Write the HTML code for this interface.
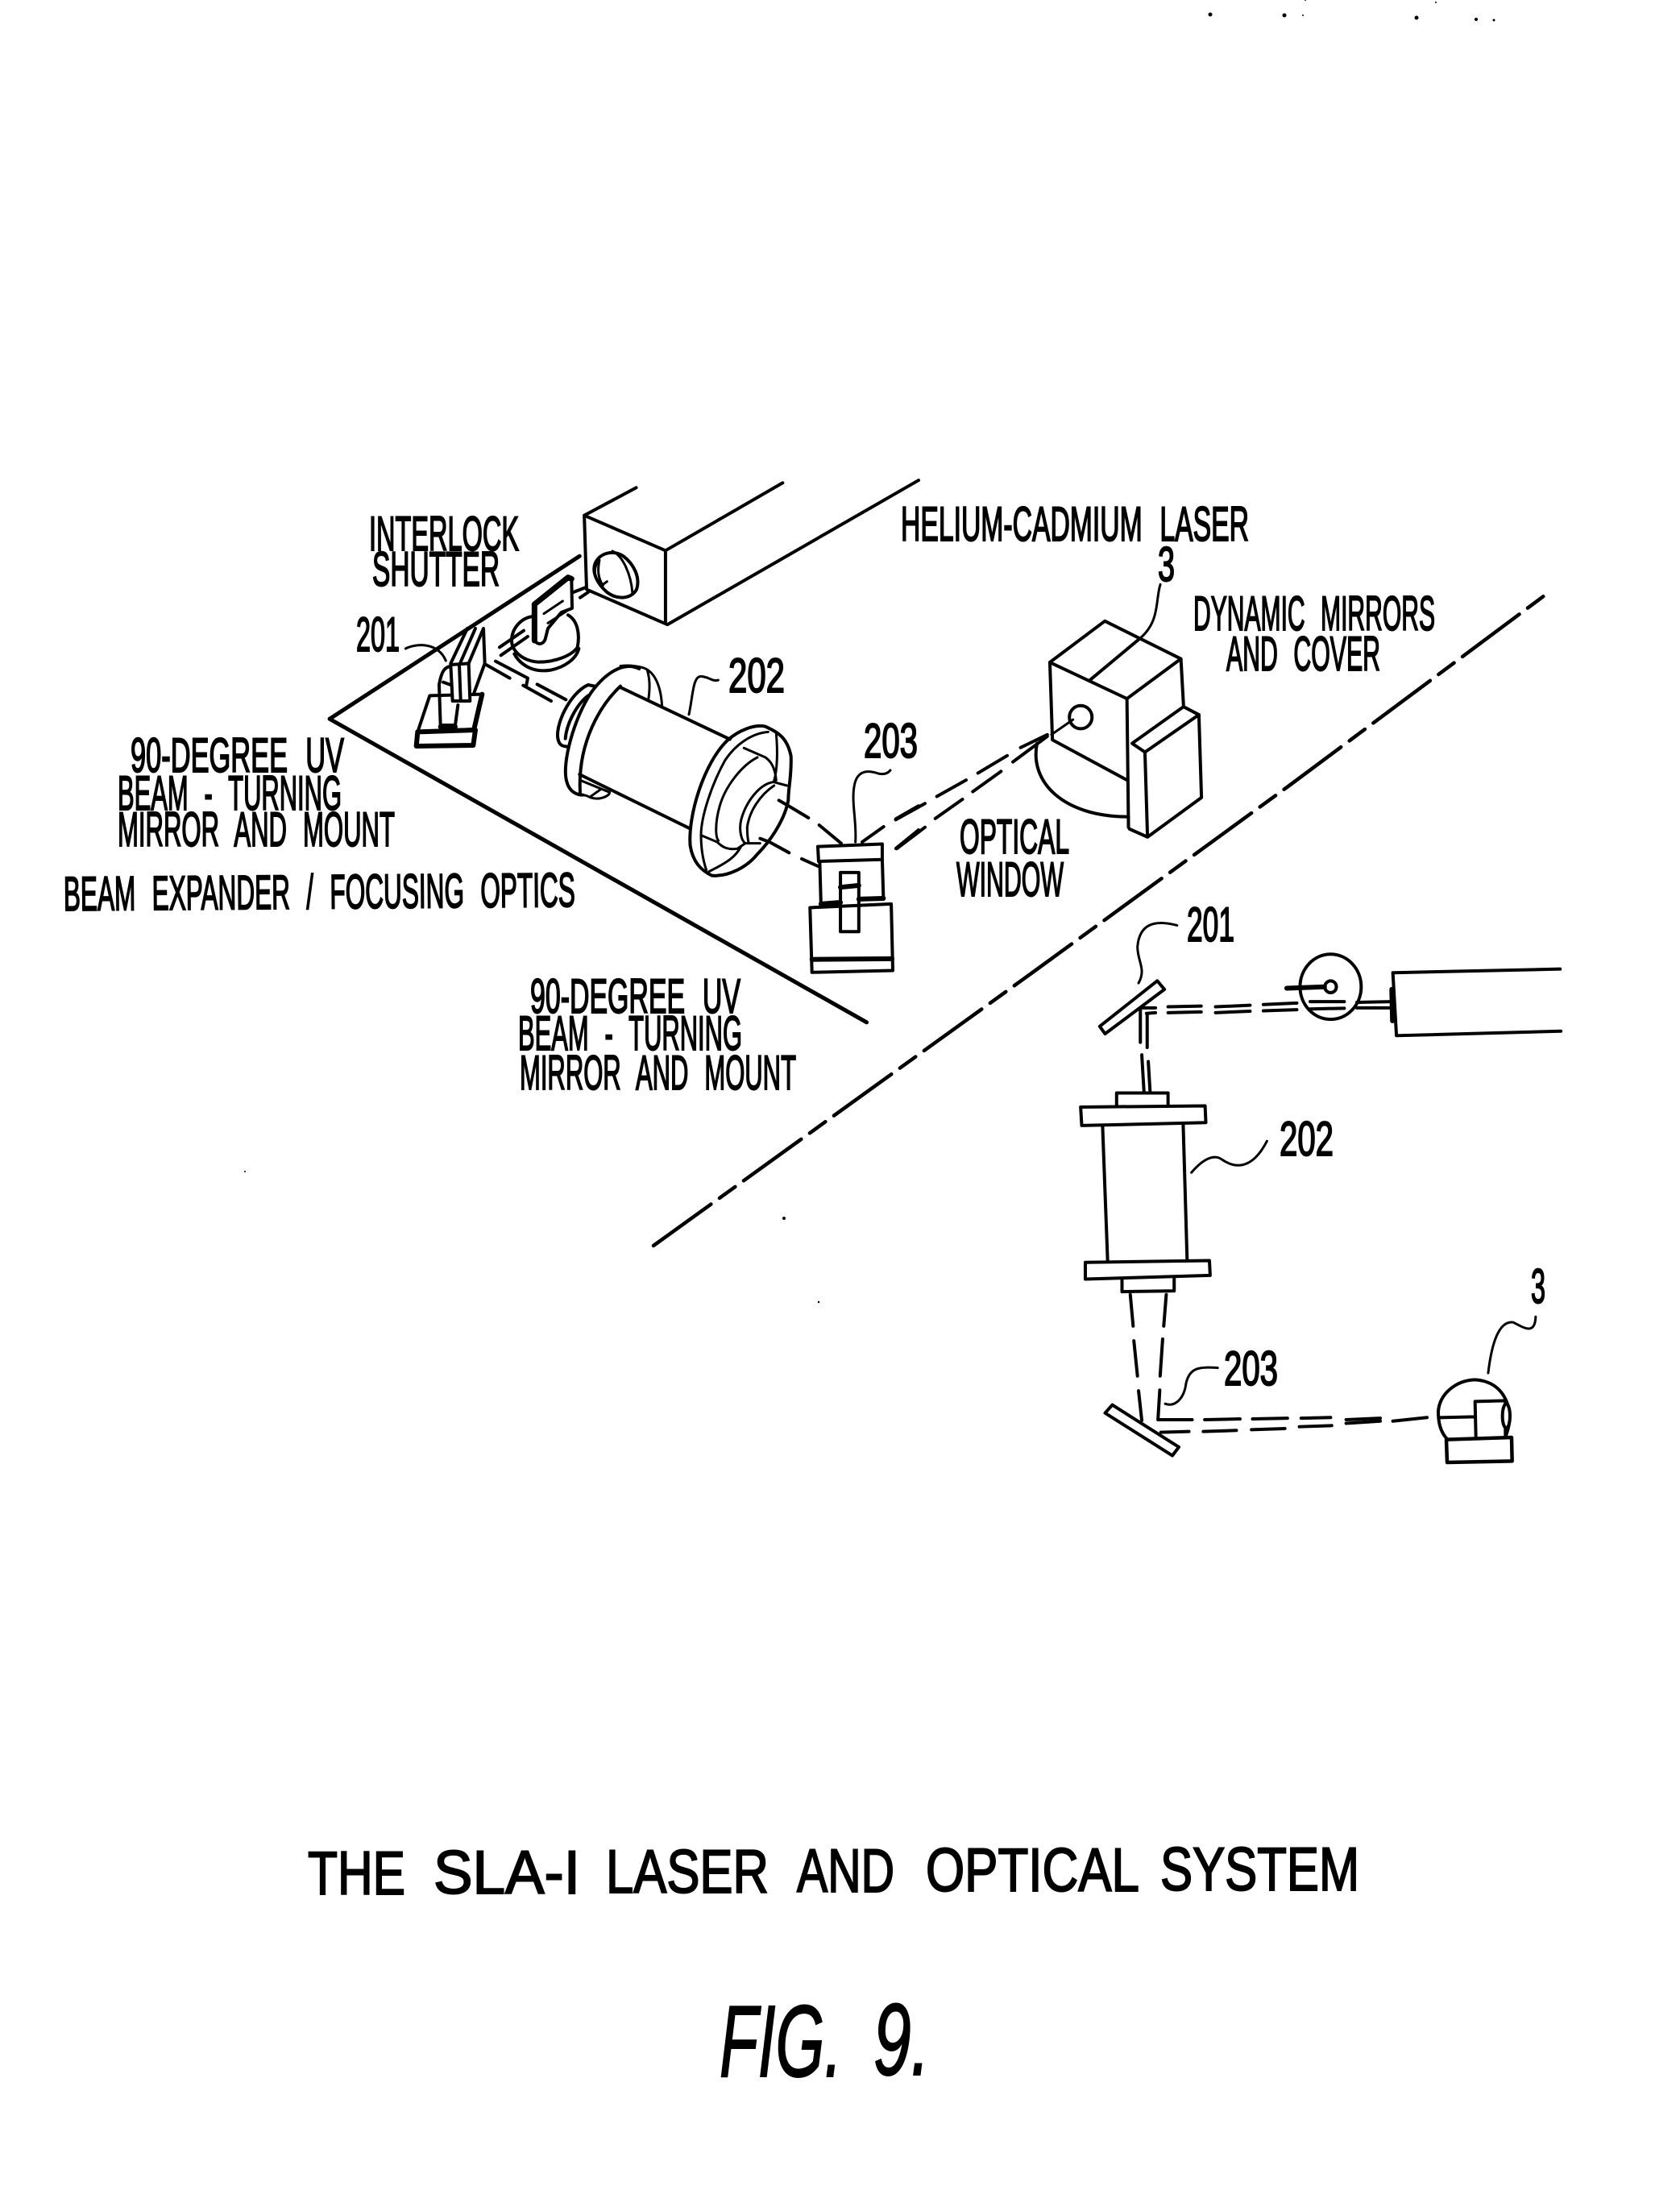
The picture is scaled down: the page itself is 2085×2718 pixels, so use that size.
<!DOCTYPE html>
<html><head><meta charset="utf-8"><title>FIG. 9 - The SLA-1 Laser and Optical System</title>
<style>
html,body{margin:0;padding:0;background:#fff}
svg{display:block}
path,line,ellipse,polygon,circle{vector-effect:non-scaling-stroke;fill:none;stroke:#000;stroke-width:4;stroke-linecap:round;stroke-linejoin:round}
.w{fill:#fff}
.t{stroke-width:3}
.b{stroke-width:6}
text{font-family:"Liberation Sans",sans-serif;fill:#000;stroke:#000;stroke-width:2}
.l text{word-spacing:22px}
.s{fill:#000;stroke:none}
</style></head><body>
<svg width="2085" height="2718" viewBox="0 0 2085 2718" xmlns="http://www.w3.org/2000/svg">
<rect width="2085" height="2718" fill="#fff"/>

<!-- specks -->
<circle class="s" cx="1502" cy="18" r="2.5"/><circle class="s" cx="1594" cy="19" r="2.5"/><circle class="s" cx="1617" cy="19" r="1"/><circle class="s" cx="1758" cy="22" r="2.5"/><circle class="s" cx="1832" cy="24" r="2"/><circle class="s" cx="1854" cy="25" r="1.5"/><circle class="s" cx="1620" cy="0" r="1"/><circle class="s" cx="1782" cy="3" r="1"/>
<circle class="s" cx="973" cy="1512" r="2"/><circle class="s" cx="1016" cy="1616" r="1.2"/><circle class="s" cx="304" cy="1454" r="1"/>

<!-- dash-dot divider -->
<path d="M811 1546 L1280 1208 L1600 975 L1925 733" stroke-dasharray="88 13 24 13" style="stroke-width:4.5"/>

<!-- Isometric view, zoom-1 coordinates -->
<g transform="translate(380 580) scale(.4847 .4592)">
  <path d="M700 240 L60 680 L1435 1500" style="stroke-width:5"/>
  <path d="M845 55 L712 130 L920 225 L1220 42 M712 130 L718 330 L925 425 L1568 35 M920 225 L920 420"/>
  <path d="M805 595 L1085 735 M700 830 L980 975"/>
  <!-- leader 202 and 203 mount -->
  <path d="M980 668 C990 620 990 565 1010 565 C1030 565 1040 580 1055 575" class="t"/>
  <path d="M1310 1025 L1475 1018 L1475 1060 L1312 1065Z"/>
  <path d="M1315 1065 L1318 1180 M1475 1060 L1478 1165"/>
  <path d="M1290 1190 L1498 1180 L1502 1360 L1295 1365Z"/>
  <path d="M1295 1330 L1500 1328" class="b"/>
  <path d="M1318 1180 L1368 1176 M1415 1167 L1478 1165" class="b"/>
  <path d="M1368 1095 L1415 1095 L1415 1255 L1368 1255Z"/>
  <path d="M1368 1135 L1415 1130" class="b"/>
  <path d="M1510 950 L1568 915 M1510 1030 L1568 980"/>
</g>

<!-- Laser lens and shutter, 3x crop coordinates -->
<g transform="translate(620 680) scale(.3333)">
  <path d="M355 60 C370 20 420 5 460 30 C500 60 525 110 510 155 C490 190 440 195 400 165 C360 130 345 90 355 60Z" class="w"/>
  <path d="M420 12 C460 30 490 100 495 170 M365 50 C350 80 350 110 380 140 L400 125 M372 45 C365 80 365 110 385 140" class="t"/>
  <path d="M275 165 L318 148 M300 185 L330 165"/>
  <path d="M125 255 C80 260 45 300 45 345 C45 380 80 420 145 425 C210 425 270 400 290 370 C300 320 290 270 255 250"/>
  <path d="M55 395 C80 440 130 465 190 455 C240 445 285 415 295 375"/>
  <path d="M130 210 L255 110 L268 115 L270 225 L230 240 L180 300 L170 340 C160 365 135 360 130 340Z" class="w"/>
  <path d="M130 345 L130 210 L255 110 L268 115" style="stroke-width:7"/>
  <path d="M165 245 L235 198 M180 280 L250 235" class="t"/>
  <path d="M0 370 L90 308 M5 400 L105 330"/>
  <!-- rear ring top -->
  <path d="M450 440 C480 435 510 440 530 445 C570 455 600 500 605 590 M550 455 C560 490 560 520 555 560" class="t"/>
</g>

<!-- Mirror 201 and rear flange, 3x crop coordinates -->
<g transform="translate(500 780) scale(.3333)">
  <path d="M10 75 C50 55 130 50 160 120" class="t"/>
  <path d="M178 130 L240 0 M215 125 L270 0 M245 130 L300 0 L305 130 L265 240"/>
  <path d="M100 250 L295 245 L265 375 L55 385Z" class="w"/>
  <path d="M55 385 L270 378 L262 435 L50 438Z M295 245 L265 375" class="b"/>
  <path d="M135 210 L140 360 L195 360 L205 285 M135 210 C145 150 160 145 178 140 M150 200 L178 210"/>
  <path d="M178 135 L245 130 L250 270 L185 270Z M210 135 L215 265" class="w"/>
  <path d="M140 366 L195 366" class="b"/>
  <path d="M345 122 L465 185 L460 210 M448 212 L552 270 M500 208 L607 265 M310 135 L398 185"/>
  <path d="M690 210 C620 240 560 370 580 420 C585 435 595 438 610 440 M690 250 C650 280 610 350 605 410 M690 210 L715 215"/>
  <path d="M880 150 C820 120 750 170 700 240 C640 330 590 500 610 570 C620 610 650 620 670 620 M810 215 C740 280 650 420 660 610"/>
  <path d="M660 565 L770 610 C770 625 730 640 700 630 C690 625 680 620 670 620 M700 625 L735 600" class="t"/>
</g>

<!-- Front flange and beams, 3x crop coordinates -->
<g transform="translate(840 880) scale(.3333)">
  <path d="M190 115 C230 80 290 55 330 65 C370 85 410 100 425 175 C428 250 415 290 415 340 C400 420 340 500 300 540 C260 590 190 625 130 620 C90 600 60 570 50 510 C40 400 100 200 190 115Z"/>
  <path d="M340 85 C280 90 220 130 180 190 C130 280 90 400 90 470 C90 530 100 570 110 600" class="t"/>
  <path d="M300 180 C240 210 180 290 160 360 C140 430 145 480 155 490" class="t"/>
  <path d="M250 145 L330 180 C350 195 365 215 370 265 M370 90 C375 150 375 220 362 268 M362 272 L410 285" class="t"/>
  <path d="M358 272 C310 280 260 340 240 410 C230 450 240 490 255 500 M362 285 C310 320 270 380 262 440 C262 470 265 490 268 500" class="t"/>
  <path d="M90 470 L150 495 C170 515 190 525 225 520 L255 500 L310 500 M240 510 C220 550 190 570 120 605" class="t"/>
  <path d="M380 340 L415 360 L490 405 M530 432 L612 500 M310 482 L345 495 L418 535 M465 558 L525 585 M690 495 L770 438 M815 412 L900 365 M818 520 L900 455"/>
  <path d="M665 495 C670 420 650 350 660 290 C670 220 720 230 750 240 C770 245 785 240 795 228" class="t"/>
</g>

<!-- Dynamic mirrors, zoom-2 coordinates -->
<g transform="translate(1000 580) scale(.6378 .4337)">
  <path d="M475 558 L582 440 L730 548 L625 662Z M552 610 L650 490 M475 558 L480 780 L625 895 M625 662 L628 1030 M730 548 L735 680"/>
  <path d="M635 790 L735 685 L765 708 L660 815Z M660 815 L665 1058 M765 708 L770 945 L665 1058 L630 1035"/>
  <path d="M450 790 C435 900 500 1000 628 1000"/>
  <ellipse cx="535" cy="715" rx="22" ry="33"/>
  <path d="M690 335 C680 380 690 440 650 490" class="t"/>
  <path d="M520 722 L478 765" class="t"/>
  <path d="M175 1008 L232 962 M255 942 L312 895 M335 875 L392 825 M418 802 L470 765" />
  <path d="M178 1090 L232 1030 M252 1005 L305 950 M325 928 L380 870 M403 843 L470 770"/>
</g>

<!-- Plan view, zoom-3 coordinates -->
<g transform="translate(1280 1120) scale(.4464 .4592)">
  <path d="M190 335 L350 212 L370 235 L205 355Z"/>
  <path d="M405 62 C340 45 300 60 295 120 C295 160 320 180 298 218" class="t"/>
  <path d="M380 282 L472 280 M380 298 L472 296 M512 282 L608 278 M512 298 L608 294 M645 276 L738 272 M645 293 L738 290 M775 268 L870 268 M775 288 L870 286"/>
  <path d="M305 285 L345 285 M320 300 L345 298 M303 285 L303 378 M322 300 L322 392 M307 412 L313 510 M325 430 L330 510"/>
  <ellipse cx="832" cy="228" rx="85" ry="88"/>
  <circle cx="832" cy="228" r="16"/>
  <path d="M710 232 L815 228" class="b"/>
  <path d="M1008 190 L1470 180 M1005 190 L1015 360 L1472 348 M905 270 L1000 268 M905 285 L1000 285"/>
  <path d="M1002 235 L1004 320" class="b"/>
  <path d="M237 550 L237 515 L380 515 L380 550"/>
  <path d="M137 553 L483 550 L485 595 L140 603Z"/>
  <path d="M198 605 L212 968 M422 598 L433 965"/>
  <path d="M150 973 L495 968 L497 1008 L150 1018Z"/>
  <path d="M252 1018 L252 1052 L397 1050 L397 1015"/>
  <path d="M445 730 C480 690 510 680 530 695 C560 715 610 730 655 645" class="t"/>
  <path d="M275 1060 L283 1145 M285 1185 L295 1280 M298 1320 L307 1400 M375 1060 L368 1145 M365 1180 L358 1280 M357 1318 L352 1398 L447 1398"/>
  <path d="M482 1398 L580 1396 M615 1396 L712 1394 M750 1394 L832 1392 M875 1398 L970 1394 M1005 1402 L1100 1392"/>
  <path d="M360 1432 L438 1430 M478 1430 L570 1427 M612 1425 L705 1422 M745 1417 L835 1414 M875 1408 L970 1402"/>
  <path d="M205 1380 L225 1358 L410 1472 L392 1495Z"/>
  <path d="M518 1258 C470 1255 440 1255 430 1300 C425 1340 400 1365 372 1355" class="t"/>
  <path d="M1270 1272 C1280 1190 1300 1130 1340 1135 C1370 1150 1400 1170 1402 1120" class="t"/>
</g>

<!-- Unit 3 in plan, 3x crop coordinates -->
<g transform="translate(1740 1680) scale(.3333)">
  <path d="M170 320 C140 290 135 250 135 215 C140 150 200 100 270 97 C330 100 370 130 390 180 C405 220 405 260 385 310"/>
  <path d="M272 178 L385 175 L385 310 M272 178 L275 310 M138 238 L270 235"/>
  <ellipse cx="388" cy="232" rx="14" ry="45" class="w"/>
  <path d="M165 320 L408 312 L410 400 L168 405Z" style="stroke-width:4.5"/>
</g>

<!-- Labels -->
<g font-size="60" class="l">
<text x="458" y="683" textLength="186" lengthAdjust="spacingAndGlyphs">INTERLOCK</text>
<text x="462" y="727" textLength="158" lengthAdjust="spacingAndGlyphs">SHUTTER</text>
<text x="442" y="808" textLength="54" lengthAdjust="spacingAndGlyphs">201</text>
<text x="904" y="859" textLength="70" lengthAdjust="spacingAndGlyphs">202</text>
<text x="1072" y="940" textLength="67" lengthAdjust="spacingAndGlyphs">203</text>
<text x="1118" y="671" textLength="432" lengthAdjust="spacingAndGlyphs">HELIUM-CADMIUM LASER</text>
<text x="1437" y="721" textLength="21" lengthAdjust="spacingAndGlyphs">3</text>
<text x="1481" y="782" textLength="300" lengthAdjust="spacingAndGlyphs">DYNAMIC MIRRORS</text>
<text x="1522" y="832" textLength="191" lengthAdjust="spacingAndGlyphs">AND COVER</text>
<text x="1191" y="1059" textLength="136" lengthAdjust="spacingAndGlyphs">OPTICAL</text>
<text x="1187" y="1112" textLength="133" lengthAdjust="spacingAndGlyphs">WINDOW</text>
<text x="162" y="958" textLength="265" lengthAdjust="spacingAndGlyphs">90-DEGREE UV</text>
<text x="146" y="1005" textLength="278" lengthAdjust="spacingAndGlyphs">BEAM - TURNING</text>
<text x="146" y="1050" textLength="344" lengthAdjust="spacingAndGlyphs">MIRROR AND MOUNT</text>
<text x="79" y="1130" textLength="635" lengthAdjust="spacingAndGlyphs" transform="rotate(-.45 79 1130)">BEAM EXPANDER / FOCUSING OPTICS</text>
<text x="658" y="1257" textLength="261" lengthAdjust="spacingAndGlyphs">90-DEGREE UV</text>
<text x="643" y="1303" textLength="278" lengthAdjust="spacingAndGlyphs">BEAM - TURNING</text>
<text x="645" y="1352" textLength="343" lengthAdjust="spacingAndGlyphs">MIRROR AND MOUNT</text>
<text x="1473" y="1168" textLength="59" lengthAdjust="spacingAndGlyphs">201</text>
<text x="1588" y="1434" textLength="67" lengthAdjust="spacingAndGlyphs">202</text>
<text x="1519" y="1719" textLength="67" lengthAdjust="spacingAndGlyphs">203</text>
<text x="1900" y="1617" textLength="18" lengthAdjust="spacingAndGlyphs">3</text>
</g>
<g font-size="76" style="stroke-width:2.4">
<text x="382" y="2351" textLength="121" lengthAdjust="spacingAndGlyphs">THE</text>
<text x="538" y="2350" textLength="182" lengthAdjust="spacingAndGlyphs">SLA-I</text>
<text x="752" y="2349" textLength="202" lengthAdjust="spacingAndGlyphs">LASER</text>
<text x="989" y="2348" textLength="121" lengthAdjust="spacingAndGlyphs">AND</text>
<text x="1149" y="2347" textLength="265" lengthAdjust="spacingAndGlyphs">OPTICAL</text>
<text x="1440" y="2346" textLength="247" lengthAdjust="spacingAndGlyphs">SYSTEM</text>
</g>
<g font-size="126" font-style="italic" style="stroke-width:.5">
<text x="893" y="2577" textLength="152" lengthAdjust="spacingAndGlyphs">FIG.</text>
<text x="1084" y="2575" textLength="70" lengthAdjust="spacingAndGlyphs">9.</text>
</g>
</svg>
</body></html>
